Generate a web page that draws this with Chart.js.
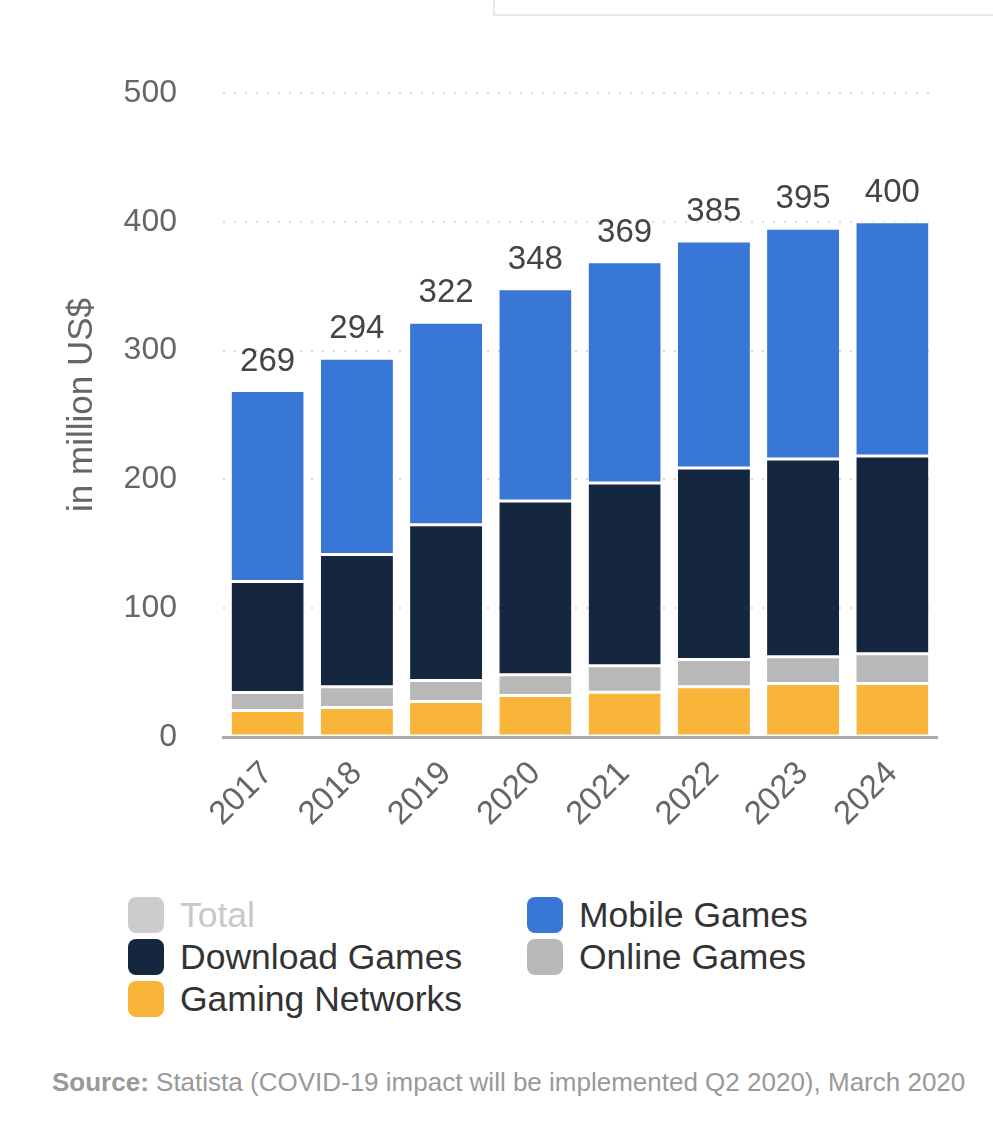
<!DOCTYPE html>
<html>
<head>
<meta charset="utf-8">
<script src="https://cdn.jsdelivr.net/npm/chart.js@4.4.1/dist/chart.umd.min.js"></script>
<style>
  html, body { margin:0; padding:0; background:#fff; }
  body { width:993px; height:1131px; position:relative; overflow:hidden; font-family:"Liberation Sans", Arial, sans-serif; }
  #topbox { position:absolute; left:493px; top:-10px; width:520px; height:24px; border:2px solid #e8e8e8; border-top:none; border-right:none; }
  #wrap { position:absolute; left:0; top:0; width:993px; height:880px; }
  .leg { position:absolute; height:40px; line-height:40px; font-size:35.5px; color:#333; white-space:nowrap; }
  .leg .box { position:absolute; left:0; top:2px; width:36px; height:36px; border-radius:8px; }
  .leg .lbl { position:absolute; left:52px; top:0; }
  #source { position:absolute; left:52px; top:1067px; width:916px; overflow:hidden; white-space:nowrap; font-size:26px; color:#999; }
  #source b { color:#999; }
</style>
</head>
<body>
<div id="topbox"></div>
<div id="wrap"><canvas id="c"></canvas></div>
<div id="legend"></div>
<div id="source"><b>Source:</b> Statista (COVID-19 impact will be implemented Q2 2020), March 2020</div>
<script>
const years = ["2017","2018","2019","2020","2021","2022","2023","2024"];
const gamingNetworks = [20.5, 22.9, 27.5, 32.2, 34.7, 39.1, 41.5, 41.5];
const onlineGames    = [14.0, 16.2, 16.3, 16.2, 20.7, 21.0, 20.9, 23.2];
const downloadGames  = [86.2, 102.5, 120.9, 134.9, 141.9, 148.8, 153.5, 153.5];
const mobileGames    = [148.3, 152.4, 157.3, 164.7, 171.7, 176.1, 179.1, 181.8];
const totals         = [269, 294, 322, 348, 369, 385, 395, 400];
const yTicks = [0, 100, 200, 300, 400, 500];
const yTitle = "in million US$";

const COLORS = {
  total: "#cccccc",
  mobile: "#3977d7",
  download: "#15273f",
  online: "#b8b8b8",
  gaming: "#f9b43a"
};

const legendItems = [
  { label: "Total", color: COLORS.total, text: "#c8c8c8", col: 0, row: 0 },
  { label: "Mobile Games", color: COLORS.mobile, text: "#333", col: 1, row: 0 },
  { label: "Download Games", color: COLORS.download, text: "#333", col: 0, row: 1 },
  { label: "Online Games", color: COLORS.online, text: "#333", col: 1, row: 1 },
  { label: "Gaming Networks", color: COLORS.gaming, text: "#333", col: 0, row: 2 }
];
const legend = document.getElementById("legend");
legendItems.forEach(it => {
  const d = document.createElement("div");
  d.className = "leg";
  d.style.left = (it.col === 0 ? 128 : 527) + "px";
  d.style.top = (895 + it.row * 42) + "px";
  d.innerHTML = '<span class="box" style="background:' + it.color + '"></span><span class="lbl" style="color:' + it.text + '">' + it.label + '</span>';
  legend.appendChild(d);
});

const barCommon = {
  borderColor: "#ffffff",
  borderWidth: { top: 1.5, bottom: 1.5, left: 0, right: 0 },
  borderSkipped: false,
  categoryPercentage: 1.0,
  barPercentage: 0.808
};

const FONT = '"Liberation Sans", Arial, sans-serif';

const extras = {
  id: "extras",
  afterDatasetsDraw(chart) {
    const ctx = chart.ctx;
    const xs = chart.scales.x, ys = chart.scales.y;
    ctx.save();
    ctx.font = '33px ' + FONT;
    ctx.fillStyle = "#444";
    ctx.textAlign = "center";
    ctx.textBaseline = "alphabetic";
    totals.forEach((t, i) => {
      ctx.fillText(String(t), xs.getPixelForValue(i), ys.getPixelForValue(t) - 20);
    });
    ctx.restore();
    ctx.save();
    ctx.translate(82, 405);
    ctx.rotate(-Math.PI / 2);
    ctx.font = '35px ' + FONT;
    ctx.fillStyle = "#666";
    ctx.textAlign = "center";
    ctx.textBaseline = "middle";
    ctx.fillText(yTitle, 0, 0);
    ctx.restore();
  }
};

new Chart(document.getElementById("c"), {
  type: "bar",
  data: {
    labels: years,
    datasets: [
      Object.assign({ label: "Gaming Networks", data: gamingNetworks, backgroundColor: COLORS.gaming }, barCommon),
      Object.assign({ label: "Online Games", data: onlineGames, backgroundColor: COLORS.online }, barCommon),
      Object.assign({ label: "Download Games", data: downloadGames, backgroundColor: COLORS.download }, barCommon),
      Object.assign({ label: "Mobile Games", data: mobileGames, backgroundColor: COLORS.mobile }, barCommon)
    ]
  },
  options: {
    responsive: true,
    maintainAspectRatio: false,
    animation: false,
    layout: { padding: { top: 93, right: 56, left: 0, bottom: 0 } },
    plugins: { legend: { display: false }, tooltip: { enabled: false } },
    scales: {
      x: {
        stacked: true,
        z: 1,
        grid: { display: false, drawTicks: false },
        border: { display: true, color: "#aaaaaa", width: 3 },
        ticks: {
          color: "#666",
          font: { family: FONT, size: 33 },
          minRotation: 45, maxRotation: 45,
          padding: 17
        },
        afterFit(s) { s.height = 143; }
      },
      y: {
        stacked: true,
        min: 0, max: 500,
        afterBuildTicks(s) { s.ticks = yTicks.map(v => ({ value: v })); },
        grid: {
          color: (c) => c.tick && c.tick.value === 0 ? "rgba(0,0,0,0)" : "#dadada",
          lineWidth: 2,
          drawTicks: false
        },
        border: { display: false, dash: [2, 9] },
        ticks: {
          color: "#666",
          font: { family: FONT, size: 32 },
          padding: 46
        },
        afterFit(s) { s.width = 223; }
      }
    }
  },
  plugins: [extras]
});
</script>
</body>
</html>
